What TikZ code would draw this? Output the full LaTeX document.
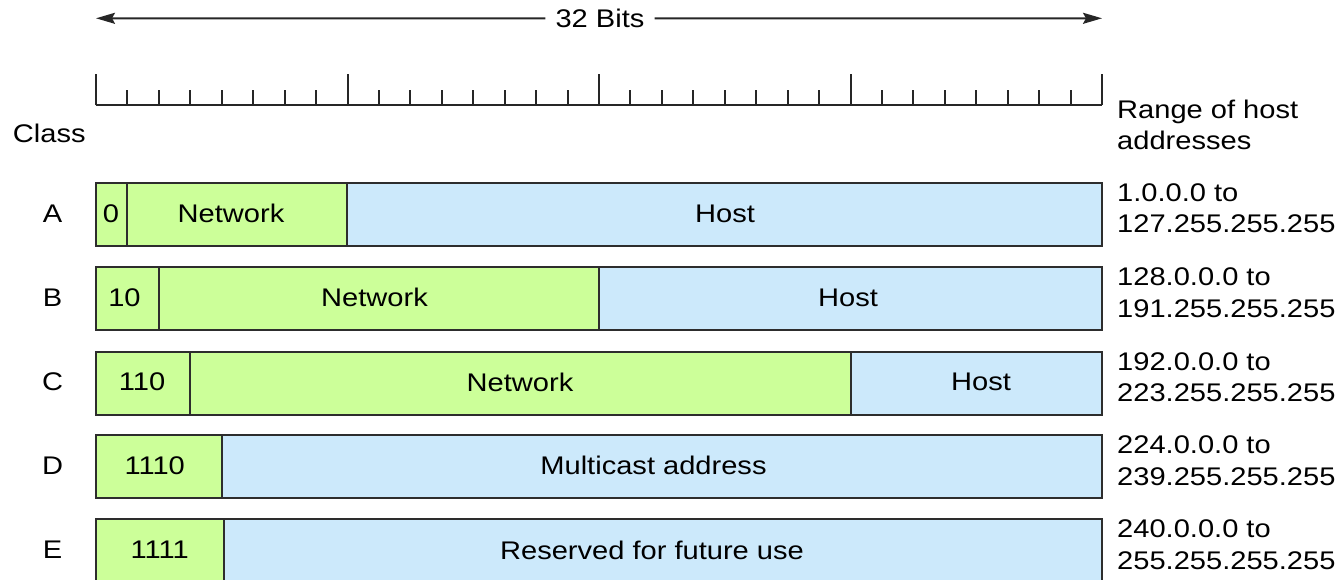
\documentclass[tikz,border=0pt]{standalone}
\usepackage{fontspec}
\setmainfont{Liberation Sans}[FakeStretch=1.14]
\usetikzlibrary{arrows.meta}

\definecolor{netgreen}{RGB}{204,255,153}
\definecolor{hostblue}{RGB}{204,233,251}
\definecolor{edgegray}{RGB}{45,45,45}

% one field of an address layout: name, left x, right x, top y, fill
\newcommand\ipfield[5]{%
  \node[field, fill=#5, minimum width={#3-#2}, anchor=north west] (#1) at (#2,#4) {};}

\begin{document}
\begin{tikzpicture}[x=1pt, y=-1pt,
  field/.style={draw=edgegray, line width=2pt, minimum height=63pt,
                inner sep=0pt, outer sep=0pt},
  lbl/.style={font=\fontsize{25.5}{33}\selectfont, inner sep=0pt, text=black},
  rule/.style={line width=2pt, draw=black!85},
  span/.style={line width=2pt, draw=black!85,
               -{Stealth[length=19pt, width=11pt, inset=3pt]}}]
\useasboundingbox (0,0) rectangle (1343,580);

% width indicator
\coordinate (spanL) at (96,18.3);
\coordinate (spanR) at (1102,18.3);
\node[lbl, inner xsep=10pt] (bits) at (600,18.5) {32 Bits};
\draw[span] (bits.west) -- (spanL);
\draw[span] (bits.east) -- (spanR);

% bit ruler: one tick per bit, long tick every byte
\draw[rule] (96,105.3) -- (1102,105.3);
\foreach \i in {0,...,32}{
  \pgfmathsetmacro\tx{96+\i*31.4375}
  \pgfmathsetmacro\ty{mod(\i,8)==0 ? 74 : 90}
  \draw[rule] (\tx,105.3) -- (\tx,\ty);
}

% column headings
\node[lbl, anchor=base west] (classhead) at (12.7,142.7) {Class};
\node[lbl, anchor=base west] (rangehead1) at (1117,118.3) {Range of host};
\node[lbl, anchor=base west] (rangehead2) at (1117,149.3) {addresses};

% class A
\ipfield{a0}{96}{127}{183}{netgreen}
\ipfield{anet}{127}{347}{183}{netgreen}
\ipfield{ahost}{347}{1102}{183}{hostblue}
\node[lbl] (aclass) at (52.5,213.5) {A};
\node[lbl] (a0t) at (111,213.5) {0};
\node[lbl] (anett) at (231,213.5) {Network};
\node[lbl] (ahostt) at (725,213.5) {Host};
\node[lbl, anchor=base west] (ar1) at (1117,201.5) {1.0.0.0 to};
\node[lbl, anchor=base west] (ar2) at (1117,233) {127.255.255.255};

% class B
\ipfield{b0}{96}{159}{267}{netgreen}
\ipfield{bnet}{159}{599}{267}{netgreen}
\ipfield{bhost}{599}{1102}{267}{hostblue}
\node[lbl] (bclass) at (52.5,297.5) {B};
\node[lbl] (b0t) at (124.5,297.5) {10};
\node[lbl] (bnett) at (374.5,297.5) {Network};
\node[lbl] (bhostt) at (848,297.5) {Host};
\node[lbl, anchor=base west] (br1) at (1117,285.5) {128.0.0.0 to};
\node[lbl, anchor=base west] (br2) at (1117,317) {191.255.255.255};

% class C
\ipfield{c0}{96}{190}{351.5}{netgreen}
\ipfield{cnet}{190}{851}{351.5}{netgreen}
\ipfield{chost}{851}{1102}{351.5}{hostblue}
\node[lbl] (cclass) at (52.5,382) {C};
\node[lbl] (c0t) at (142,382) {110};
\node[lbl] (cnett) at (520,382) {Network};
\node[lbl] (chostt) at (981,382) {Host};
\node[lbl, anchor=base west] (cr1) at (1117,370) {192.0.0.0 to};
\node[lbl, anchor=base west] (cr2) at (1117,401.5) {223.255.255.255};

% class D
\ipfield{d0}{96}{222}{435}{netgreen}
\ipfield{dmc}{222}{1102}{435}{hostblue}
\node[lbl] (dclass) at (52.5,465.5) {D};
\node[lbl] (d0t) at (154.7,465.5) {1110};
\node[lbl] (dmct) at (653.5,465.5) {Multicast address};
\node[lbl, anchor=base west] (dr1) at (1117,453.5) {224.0.0.0 to};
\node[lbl, anchor=base west] (dr2) at (1117,485) {239.255.255.255};

% class E
\ipfield{e0}{96}{224}{519}{netgreen}
\ipfield{eres}{224}{1102}{519}{hostblue}
\node[lbl] (eclass) at (52.5,550) {E};
\node[lbl] (e0t) at (159.7,550) {1111};
\node[lbl] (erest) at (652,550) {Reserved for future use};
\node[lbl, anchor=base west] (er1) at (1117,537.5) {240.0.0.0 to};
\node[lbl, anchor=base west] (er2) at (1117,569) {255.255.255.255};
\end{tikzpicture}
\end{document}
